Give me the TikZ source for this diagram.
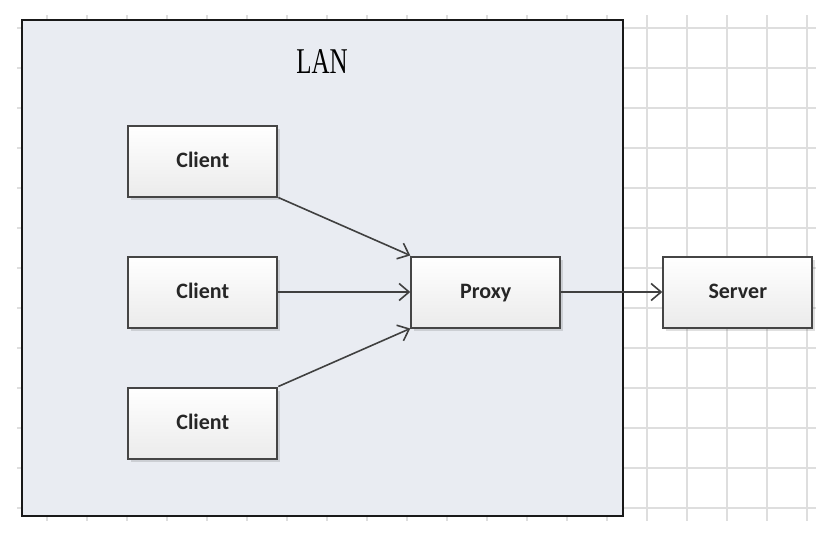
\documentclass[tikz,border=0pt]{standalone}
\usepackage{fontspec}
\setmainfont{Carlito}
\newfontfamily\lanfont{Liberation Serif}
\usepackage{graphicx}
\usetikzlibrary{arrows.meta,positioning,shadows}
\definecolor{gridgray}{HTML}{DEDEDE}
\definecolor{lanfill}{HTML}{E9ECF2}
\definecolor{boxline}{HTML}{454545}
\definecolor{boxbottom}{HTML}{EBEBEB}
\definecolor{arrowgray}{HTML}{404040}

\begin{document}
\begin{tikzpicture}[x=1pt,y=-1pt,>={Straight Barb[length=10pt,width=17pt]},
                    node distance=58pt]
  \tikzstyle{box}=[draw=boxline,line width=2pt,top color=white,bottom color=boxbottom,
                   minimum width=149pt,minimum height=71pt,text=black!85,
                   text height=12pt,text depth=0pt,
                   font=\bfseries\fontsize{22}{26}\selectfont,
                   drop shadow={shadow xshift=3pt,shadow yshift=-3pt,fill=black,opacity=0.12}]
  \tikzstyle{link}=[->,draw=arrowgray,line width=1.6pt]

  \useasboundingbox (0,0) rectangle (828,538);
  \fill[white] (0,0) rectangle (828,538);
  % page grid
  \foreach \gx in {0,...,19}
    \draw[gridgray,line width=1.2pt] (47+40*\gx,15) -- (47+40*\gx,521);
  \foreach \gy in {0,...,12}
    \draw[gridgray,line width=1.2pt] (17,28+40*\gy) -- (816,28+40*\gy);
  % LAN area
  \filldraw[fill=lanfill,draw=black!90,line width=2.5pt] (22,20) rectangle (623,516);
  \node (lan) at (322,62) {\lanfont\fontsize{25}{25}\selectfont\scalebox{1}[1.45]{LAN}};

  \node[box] (c2) at (202.8,292) {Client};
  \node[box] (c1) [above=of c2] {Client};
  \node[box] (c3) [below=of c2] {Client};
  \node[box] (px) [right=132pt of c2] {Proxy};
  \node[box] (srv) [right=101pt of px] {Server};

  \draw[link] (c1.south east) -- (px.north west);
  \draw[link] (c2) -- (px);
  \draw[link] (c3.north east) -- (px.south west);
  \draw[link] (px) -- (srv);
\end{tikzpicture}
\end{document}
